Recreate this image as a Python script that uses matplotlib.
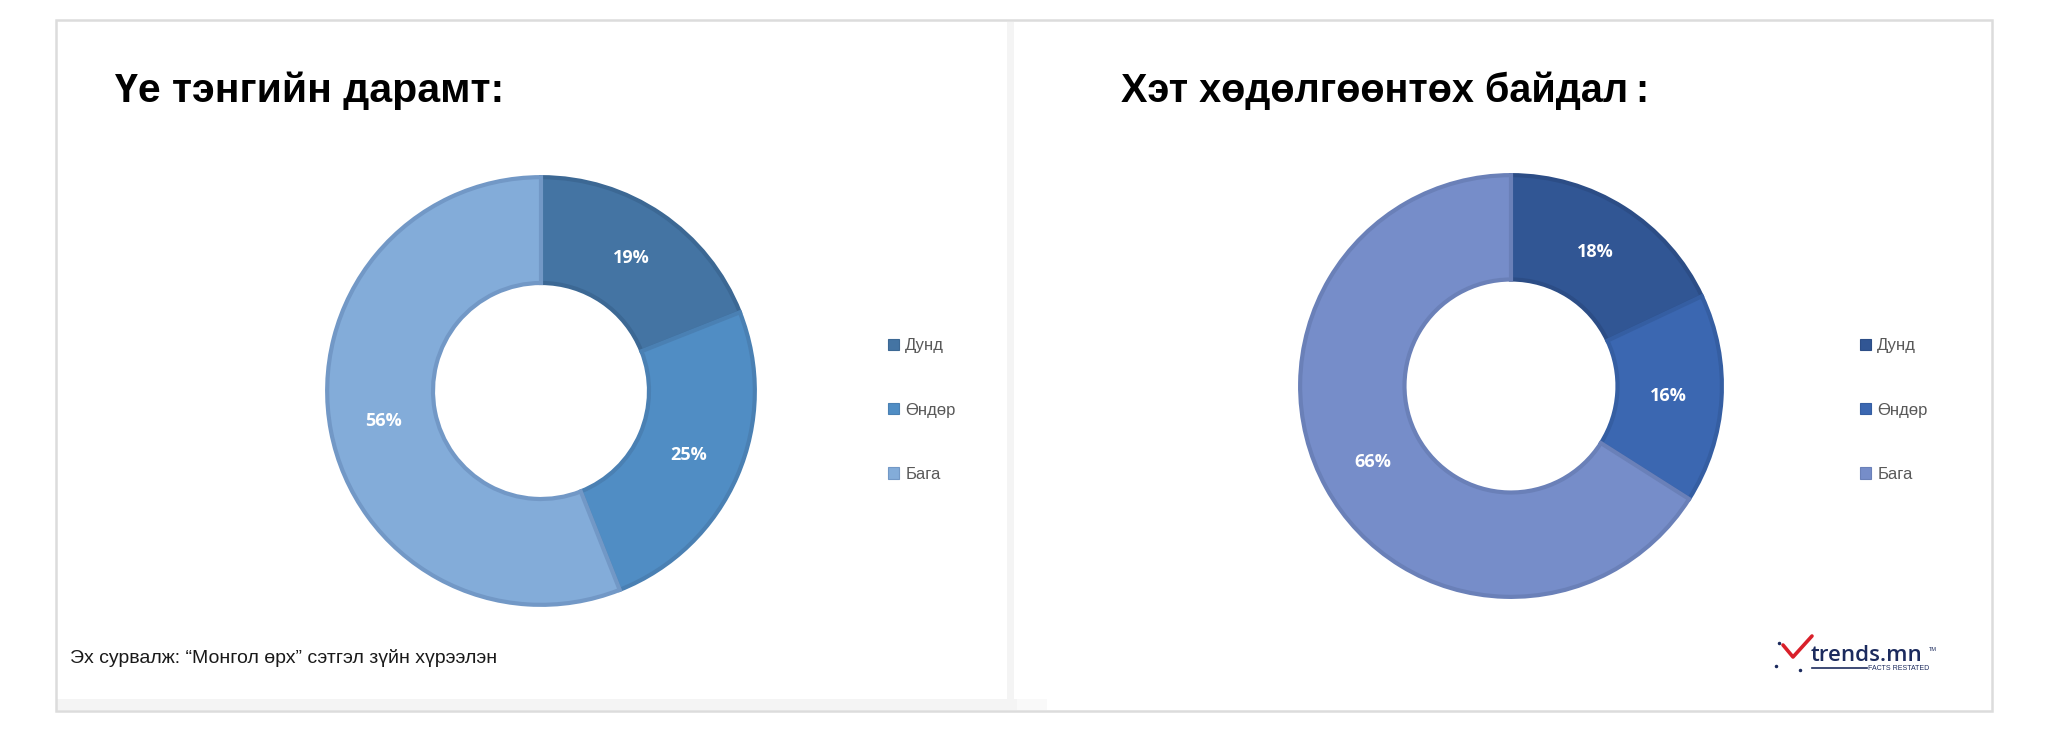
import matplotlib
matplotlib.use("Agg")
import matplotlib.pyplot as plt
from matplotlib.patches import Rectangle, Patch
from matplotlib.lines import Line2D

# ---------------- data ----------------
categories = ["Дунд", "Өндөр", "Бага"]
left_title = "Үе тэнгийн дарамт:"
left_values = [19, 25, 56]
right_title = "Хэт хөдөлгөөнтөх байдал\u2009:"
right_values = [18, 16, 66]
source_text = "Эх сурвалж: “Монгол өрх” сэтгэл зүйн хүрээлэн"

left_colors = ["#4474a3", "#508dc4", "#83acd9"]
left_edges = ["#3c6894", "#4a80b3", "#7298c6"]
right_colors = ["#315694", "#3b67b1", "#768dc9"]
right_edges = ["#2c4d86", "#355ea2", "#6a80b8"]

W, H = 2048, 731
fig = plt.figure(figsize=(W / 100, H / 100), dpi=100)
fig.patch.set_facecolor("white")

def fx(px):
    return px / W

def fy(py):
    return 1 - py / H

SANS = ["Liberation Sans", "DejaVu Sans"]
LABEL = ["Open Sans", "Noto Sans", "DejaVu Sans"]

# ---------------- frame ----------------
bg = fig.add_axes([0, 0, 1, 1])
bg.set_xlim(0, W)
bg.set_ylim(H, 0)
bg.axis("off")
bg.add_patch(Rectangle((1007, 22), 7, 678, facecolor="#f4f4f4", edgecolor="none"))
bg.add_patch(Rectangle((57, 699), 960, 11, facecolor="#f4f4f4", edgecolor="none"))
bg.add_patch(Rectangle((1017, 699), 30, 11, facecolor="#f9f9f9", edgecolor="none"))
bg.add_patch(Rectangle((56, 20), 1936, 691, facecolor="none", edgecolor="#dcdcdc", lw=1.8))

# ---------------- donuts ----------------
def donut(cx, cy, r, values, colors, edges, title, title_x, title_size, legend_x):
    ax = fig.add_axes([fx(cx - r), fy(cy + r), 2 * r / W, 2 * r / H])
    wedges, texts, autotexts = ax.pie(
        values, colors=colors, startangle=90, counterclock=False, radius=0.99,
        autopct=lambda p: f"{p:.0f}%", pctdistance=0.75,
        wedgeprops=dict(width=0.49, linewidth=3.0),
        textprops=dict(color="white", fontsize=13, fontweight="bold", family=LABEL),
    )
    ax.set_xlim(-1, 1)
    ax.set_ylim(-1, 1)
    ax.axis("off")
    for w, ec in zip(wedges, edges):
        w.set_edgecolor(ec)
        w.set_clip_on(False)
    fig.text(fx(title_x), fy(102), title, fontsize=title_size, fontweight="bold",
             family=SANS, color="black", ha="left", va="baseline")
    handles = [Patch(facecolor=c, edgecolor=e, lw=0.8) for c, e in zip(colors, edges)]
    fig.legend(handles, categories, loc="center left",
               bbox_to_anchor=(fx(legend_x), fy(410)), frameon=False,
               prop=dict(family=SANS, size=12), labelcolor="#595959",
               handlelength=0.68, handleheight=0.68, handletextpad=0.35,
               labelspacing=2.95, borderpad=0, borderaxespad=0)

donut(541, 391, 216, left_values, left_colors, left_edges, left_title, 115, 29.5, 888)
donut(1511, 386, 213, right_values, right_colors, right_edges, right_title, 1121, 28.5, 1860)

# ---------------- source ----------------
fig.text(fx(70), fy(658), source_text, fontsize=14, family=SANS, color="#1a1a1a",
         ha="left", va="center")

# ---------------- logo ----------------
bg.add_line(Line2D([1783, 1793, 1812], [645, 657, 636], color="#d9202a", lw=2.6,
                   solid_capstyle="round"))
bg.add_line(Line2D([1812, 1867], [668, 668], color="#1c2b5e", lw=1.2))
for dx, dy in [(1779, 643), (1776, 666), (1800, 670)]:
    bg.add_line(Line2D([dx], [dy], marker="o", ms=1.5, color="#1c2b5e", lw=0))
bg.text(1811, 661, "trends.mn", fontsize=16, fontweight="semibold", family=LABEL,
        color="#1c2b5e", ha="left", va="baseline")
bg.text(1929, 651, "TM", fontsize=4, family=SANS, color="#1c2b5e", ha="left", va="baseline")
bg.text(1868, 669, "FACTS RESTATED", fontsize=5, family=SANS, color="#1c2b5e",
        ha="left", va="center")

fig.savefig("out.png", dpi=100, facecolor="white")
